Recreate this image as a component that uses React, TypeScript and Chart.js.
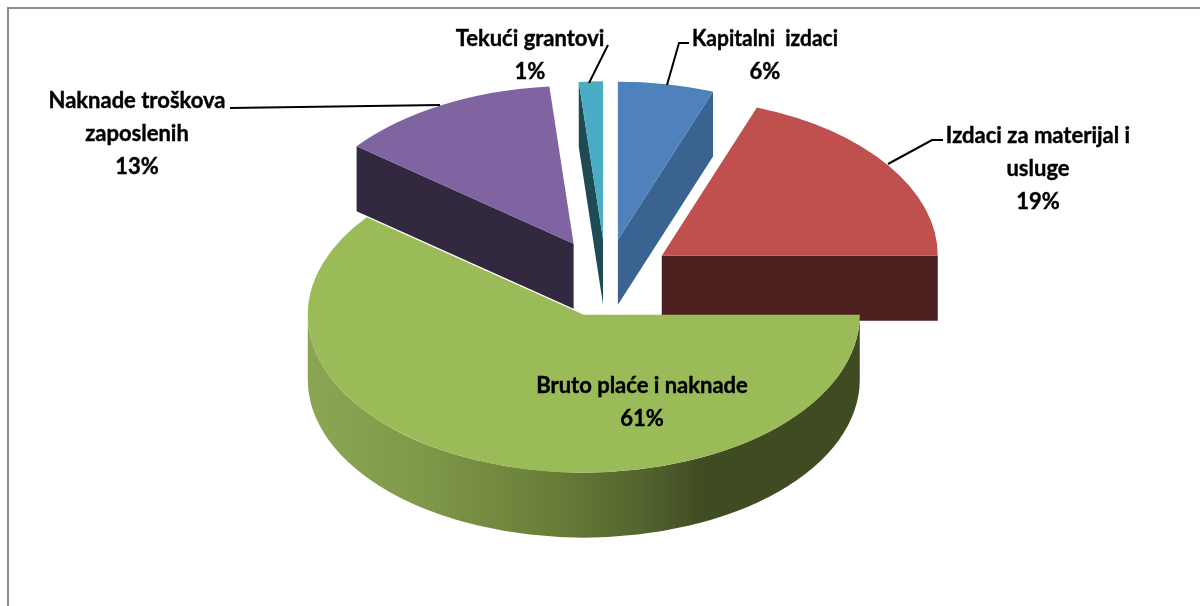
import React, { useEffect, useRef } from "react";
import { Chart, PieController, ArcElement } from "chart.js";

Chart.register(PieController, ArcElement);

const categories = ["Kapitalni izdaci", "Izdaci za materijal i usluge", "Bruto plaće i naknade", "Naknade troškova zaposlenih", "Tekući grantovi"];
const values = [5.6, 19.4, 60.6, 13.0, 1.4];
const topColors = ["#4F81BD", "#C0504D", "#9BBB59", "#8064A2", "#4BACC6"];
const wallColors = ["#3A6392", "#4D1F1F", "#3F4B21", "#32283F", "#1F4B55"];
const labelLines = [["Kapitalni  izdaci", "6%"], ["Izdaci za materijal i", "usluge", "19%"], ["Bruto plaće i naknade", "61%"], ["Naknade troškova", "zaposlenih", "13%"], ["Tekući grantovi", "1%"]];
const labelCentreX = [765, 1038, 642, 137, 530];
const labelFirstBaseline = [46, 143, 393, 108, 46];
const labelFirstWidth = [146, 185, 212, 177, 150];
const leaders = [
  [[667, 85], [679, 43], [689, 43]],
  [[888, 164], [932, 140], [943, 140]],
  [],
  [[230, 108], [440, 105]],
  [[589, 83], [608, 45]],
];
const greenWallStops: [number, string][] = [[0, "#8BA653"], [0.2, "#80994A"], [0.42, "#6C8039"], [0.6, "#54652F"], [0.72, "#3F4B21"], [1, "#3F4B21"]];

const W = 1200;
const H = 606;
const RADIUS = 276;
const EXPLODE = 68;
const SQUASH = 0.572;
const CY_REAL = 278;
const DEPTH = 65;
const LINE_HEIGHT = 33;

const project = (y: number) => CY_REAL + (y - H / 2) * SQUASH;

const pie3d = {
  id: "pie3d",
  afterDatasetsUpdate(chart: any) {
    // Explode each slice along its own middle angle.
    chart.getDatasetMeta(0).data.forEach((a: any) => {
      const mid = (a.startAngle + a.endAngle) / 2;
      a.x += Math.cos(mid) * EXPLODE;
      a.y += Math.sin(mid) * EXPLODE;
    });
  },
  beforeDraw(chart: any) {
    const { ctx } = chart;
    ctx.save();
    ctx.fillStyle = "#ffffff";
    ctx.fillRect(0, 0, W, H);
    ctx.strokeStyle = "#8C8C8C";
    ctx.lineWidth = 2;
    ctx.beginPath();
    ctx.moveTo(8, H);
    ctx.lineTo(8, 8);
    ctx.lineTo(W, 8);
    ctx.stroke();
    ctx.restore();
  },
  beforeDatasetsDraw(chart: any) {
    const { ctx } = chart;
    const arcs = chart.getDatasetMeta(0).data;
    ctx.save();
    [0, 4, 3, 1, 2].forEach((i) => {
      const a = arcs[i];
      const ax = a.x;
      const ayRaw = a.y;
      const r = a.outerRadius;
      const pt = (ang: number, d: number) => [ax + Math.cos(ang) * r, project(ayRaw + Math.sin(ang) * r) + d];
      const apex = [ax, project(ayRaw)];
      const quad = (ang: number) => {
        const p = pt(ang, 0);
        ctx.fillStyle = wallColors[i];
        ctx.beginPath();
        ctx.moveTo(apex[0], apex[1]);
        ctx.lineTo(p[0], p[1]);
        ctx.lineTo(p[0], p[1] + DEPTH);
        ctx.lineTo(apex[0], apex[1] + DEPTH);
        ctx.closePath();
        ctx.fill();
      };
      if (Math.cos(a.startAngle) < -1e-6) quad(a.startAngle);
      if (Math.cos(a.endAngle) > 1e-6) quad(a.endAngle);
      const from = Math.max(a.startAngle, 0);
      const to = Math.min(a.endAngle, Math.PI);
      if (to > from) {
        const g = ctx.createLinearGradient(ax - r, 0, ax + r, 0);
        greenWallStops.forEach(([s, c]) => g.addColorStop(s, c));
        ctx.fillStyle = g;
        ctx.beginPath();
        const cy = project(ayRaw);
        ctx.ellipse(ax, cy, r, r * SQUASH, 0, from, to);
        ctx.ellipse(ax, cy + DEPTH, r, r * SQUASH, 0, to, from, true);
        ctx.closePath();
        ctx.fill();
      }
    });
    ctx.restore();
    ctx.save();
    ctx.translate(0, CY_REAL);
    ctx.scale(1, SQUASH);
    ctx.translate(0, -H / 2);
  },
  afterDatasetsDraw(chart: any) {
    chart.ctx.restore();
  },
  afterDraw(chart: any) {
    const { ctx } = chart;
    ctx.save();
    ctx.strokeStyle = "#000000";
    ctx.lineWidth = 2;
    leaders.forEach((pts) => {
      if (!pts.length) return;
      ctx.beginPath();
      pts.forEach(([x, y], k) => (k ? ctx.lineTo(x, y) : ctx.moveTo(x, y)));
      ctx.stroke();
    });
    ctx.fillStyle = "#000000";
    ctx.strokeStyle = "#000000";
    ctx.lineWidth = 0.4;
    ctx.font = "bold 22px Lato";
    ctx.textAlign = "center";
    ctx.textBaseline = "alphabetic";
    labelLines.forEach((lines, i) => {
      lines.forEach((t, k) => {
        const y = labelFirstBaseline[i] + k * LINE_HEIGHT;
        const mw = k === 0 ? labelFirstWidth[i] : 200;
        ctx.fillText(t, labelCentreX[i], y, mw);
        ctx.strokeText(t, labelCentreX[i], y, mw);
      });
    });
    ctx.restore();
  },
};

export default function App() {
  const ref = useRef<HTMLCanvasElement>(null);
  useEffect(() => {
    const chart = new Chart(ref.current as HTMLCanvasElement, {
      type: "pie",
      data: {
        labels: categories,
        datasets: [{ data: values, backgroundColor: topColors, borderWidth: 0, radius: RADIUS }],
      },
      options: {
        responsive: false,
        animation: false,
        layout: { padding: { left: 12 } },
        plugins: { legend: { display: false }, tooltip: { enabled: false } },
      },
      plugins: [pie3d],
    } as any);
    return () => chart.destroy();
  }, []);
  return <canvas ref={ref} width={W} height={H} style={{ position: "absolute", left: 0, top: 0, display: "block" }} />;
}
